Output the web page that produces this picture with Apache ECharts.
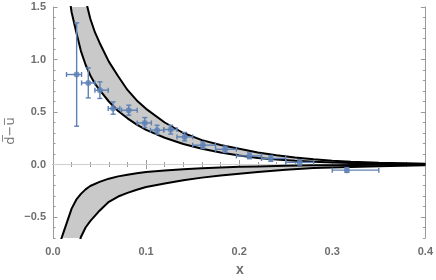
<!DOCTYPE html>
<html><head><meta charset="utf-8">
<script src="https://cdn.jsdelivr.net/npm/echarts@6/dist/echarts.min.js"></script>
<style>html,body{margin:0;padding:0;background:#fff}#c{width:436px;height:280px}</style>
</head><body><div id="c"></div>
<script>
// Upper band (inner curve A, outer curve B)
const upX = [0.015,0.02,0.025,0.03,0.035,0.04,0.045,0.05,0.06,0.07,0.08,0.09,0.10,0.12,0.14,0.16,0.18,0.20,0.22,0.24,0.26,0.28,0.30,0.32,0.35,0.40];
const upInner = [1.75,1.45,1.26,1.08,0.95,0.85,0.77,0.71,0.60,0.51,0.44,0.38,0.33,0.255,0.195,0.15,0.115,0.085,0.063,0.047,0.035,0.026,0.019,0.014,0.009,0.004];
const upOuter = [3.4,2.7,2.2,1.85,1.57,1.39,1.26,1.16,0.98,0.84,0.71,0.61,0.53,0.40,0.30,0.232,0.185,0.15,0.115,0.088,0.066,0.049,0.036,0.026,0.016,0.006];
// Lower band (inner curve C, outer curve D)
const loX = [0.005,0.01,0.02,0.025,0.03,0.035,0.04,0.05,0.06,0.07,0.08,0.09,0.10,0.12,0.14,0.16,0.18,0.20,0.22,0.25,0.28,0.30,0.35,0.40];
const loInner = [-0.81,-0.68,-0.42,-0.335,-0.28,-0.237,-0.205,-0.165,-0.135,-0.113,-0.097,-0.083,-0.072,-0.056,-0.045,-0.035,-0.028,-0.022,-0.018,-0.012,-0.008,-0.006,-0.003,-0.001];
const loOuter = [-3.0,-2.0,-1.1,-0.85,-0.69,-0.60,-0.54,-0.44,-0.355,-0.305,-0.27,-0.24,-0.215,-0.18,-0.15,-0.125,-0.105,-0.088,-0.072,-0.05,-0.034,-0.028,-0.016,-0.006];
// Data points with error bars
const ptX   = [0.0254,0.0379,0.0504,0.0646,0.0814,0.0986,0.1118,0.1264,0.1414,0.161,0.185,0.211,0.234,0.265,0.3157];
const ptY   = [0.857,0.777,0.708,0.533,0.517,0.396,0.327,0.333,0.263,0.184,0.145,0.082,0.057,0.02,-0.054];
const ptXLo = [0.0145,0.0307,0.045,0.0593,0.0736,0.0904,0.1047,0.119,0.1332,0.150,0.1746,0.197,0.224,0.25,0.30];
const ptXHi = [0.0307,0.045,0.0593,0.0718,0.0904,0.1057,0.119,0.1332,0.150,0.1746,0.197,0.224,0.25,0.28,0.35];
const ptYLo = [0.365,0.634,0.629,0.479,0.47,0.352,0.289,0.29,0.225,0.152,0.115,0.055,0.03,-0.005,-0.075];
const ptYHi = [1.349,0.92,0.787,0.596,0.565,0.447,0.374,0.374,0.305,0.215,0.175,0.11,0.085,0.045,-0.03];
const yMajor = [-0.5,0,0.5,1,1.5];

const ptColor = '#5E81B5';
const bandFill = '#c9c9c9';
const frame = '#9a9a9a';
const labCol = '#6f6f6f';

function pairs(xs, ys){ return xs.map((x,i)=>[x, ys[i]]); }

const chart = echarts.init(document.getElementById('c'), null, {renderer:'canvas'});

const yCommon = {type:'value', min:-0.7, max:1.5, interval:0.1, splitLine:{show:false}, axisLine:{show:true, lineStyle:{color:frame}}};
const fmtY = v => { const r = Math.round(v*10)/10; if (Math.abs(r*2 - Math.round(r*2))>1e-6) return ''; return (r<0?'\u2212':'') + Math.abs(r).toFixed(1); };

function lineS(data){
  return {type:'line', data, showSymbol:false, symbol:'none', silent:true, clip:true, z:4,
    lineStyle:{color:'#000', width:2}, animation:false};
}
function bandS(xs, a, b){
  return {type:'custom', z:2, silent:true, clip:true,
    data: xs.map((x,i)=>[x, a[i], b[i]]),
    encode:{x:0, y:[1,2]},
    renderItem:function(params, api){
      if (params.dataIndex !== 0) return null;
      const pts = [];
      for (let i=0;i<xs.length;i++) pts.push(api.coord([xs[i], b[i]]));
      for (let i=xs.length-1;i>=0;i--) pts.push(api.coord([xs[i], a[i]]));
      return {type:'polygon', shape:{points:pts}, style:{fill:bandFill, stroke:null}};
    }};
}

const option = {
  animation:false,
  grid:{left:53, right:10, top:7, bottom:42},
  xAxis:[
    {type:'value', min:0, max:0.4, interval:0.1, position:'bottom',
     axisLine:{show:true, lineStyle:{color:frame}}, splitLine:{show:false},
     axisTick:{show:true, inside:true, length:4.5, lineStyle:{color:frame}},
     minorTick:{show:true, splitNumber:5, length:2.5, lineStyle:{color:frame}},
     axisLabel:{color:labCol, fontFamily:'Liberation Sans', fontWeight:'bold', fontSize:11, margin:8, formatter:v=>v.toFixed(1)}},
    {type:'value', min:0, max:0.4, interval:0.1, position:'top',
     axisLine:{show:true, lineStyle:{color:frame}}, splitLine:{show:false},
     axisTick:{show:true, inside:true, length:4.5, lineStyle:{color:frame}},
     minorTick:{show:true, splitNumber:5, length:2.5, lineStyle:{color:frame}},
     axisLabel:{show:false}}
  ],
  yAxis:[
    Object.assign({}, yCommon, {position:'left',
      axisTick:{show:true, inside:true, length:2.5, lineStyle:{color:frame}},
      axisLabel:{color:labCol, fontFamily:'Liberation Sans', fontWeight:'bold', fontSize:11, margin:7, formatter:fmtY}}),
    Object.assign({}, yCommon, {position:'left', axisLine:{show:false},
      axisTick:{show:true, inside:true, length:4.5, customValues:yMajor, lineStyle:{color:frame}},
      axisLabel:{show:false}}),
    Object.assign({}, yCommon, {position:'right',
      axisTick:{show:true, inside:true, length:2.5, lineStyle:{color:frame}}, axisLabel:{show:false}}),
    Object.assign({}, yCommon, {position:'right', axisLine:{show:false},
      axisTick:{show:true, inside:true, length:4.5, customValues:yMajor, lineStyle:{color:frame}},
      axisLabel:{show:false}})
  ],
  graphic:[
    {type:'text', x:240, y:270, style:{text:'x', fill:'#6f6f6f', font:'bold 14px "Liberation Sans"', align:'center', verticalAlign:'middle'}},
    {type:'text', x:11, y:131, rotation:Math.PI/2, style:{text:'d\u0305\u2212u\u0305', fill:'#777', font:'13px "DejaVu Sans"', align:'center', verticalAlign:'middle'}}
  ],
  series:[
    {type:'line', data:[[0,0],[0.4,0]], symbol:'none', silent:true, z:1, lineStyle:{color:'#cfcfcf', width:1}},
    bandS(upX, upInner, upOuter),
    bandS(loX, loInner, loOuter),
    lineS(pairs(upX, upInner)), lineS(pairs(upX, upOuter)),
    lineS(pairs(loX, loInner)), lineS(pairs(loX, loOuter)),
    {type:'custom', z:5, silent:true, clip:true,
     data: ptX.map((x,i)=>[x, ptY[i], ptXLo[i], ptXHi[i], ptYLo[i], ptYHi[i]]),
     encode:{x:[0,2,3], y:[1,4,5]},
     renderItem:function(params, api){
       const x=api.value(0), y=api.value(1);
       const c=api.coord([x,y]);
       const l=api.coord([api.value(2),y]), r=api.coord([api.value(3),y]);
       const b=api.coord([x,api.value(4)]), t=api.coord([x,api.value(5)]);
       const cap=2.5;
       const st={stroke:ptColor, lineWidth:1.4};
       const seg=(x1,y1,x2,y2)=>({type:'line', shape:{x1,y1,x2,y2}, style:st});
       return {type:'group', children:[
         seg(l[0],c[1],r[0],c[1]),
         seg(l[0],c[1]-cap,l[0],c[1]+cap),
         seg(r[0],c[1]-cap,r[0],c[1]+cap),
         seg(c[0],b[1],c[0],t[1]),
         seg(c[0]-cap,b[1],c[0]+cap,b[1]),
         seg(c[0]-cap,t[1],c[0]+cap,t[1])
       ]};
     }},
    {type:'scatter', z:6, silent:true, data:pairs(ptX, ptY), symbol:'circle', symbolSize:6, itemStyle:{color:ptColor}}
  ]
};
chart.setOption(option);
</script></body></html>
